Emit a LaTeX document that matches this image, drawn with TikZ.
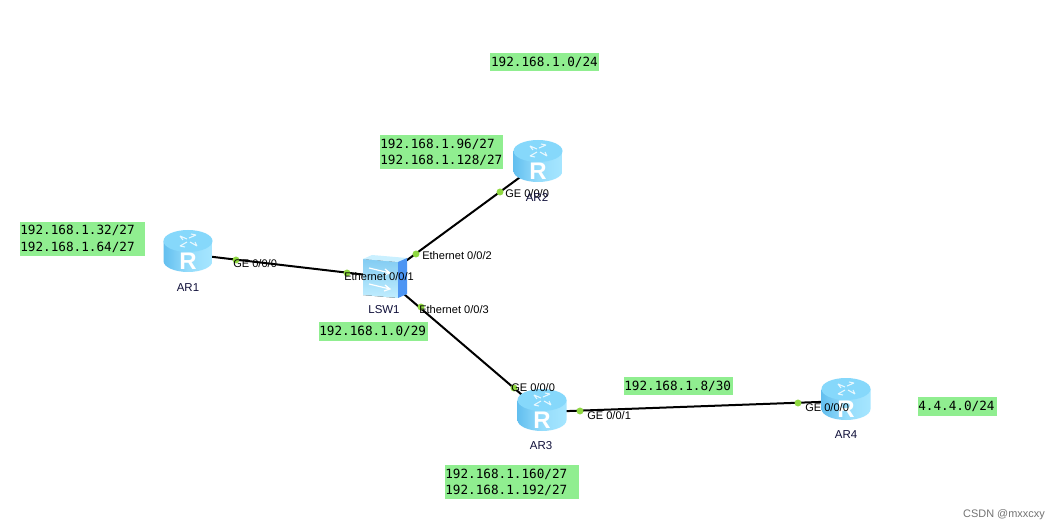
\documentclass[tikz,border=0pt]{standalone}
\usepackage{fontspec}
\setmainfont{Liberation Sans}
\newfontfamily\monof{DejaVu Sans Mono}
\definecolor{netgreen}{HTML}{90EE90}
\definecolor{dotgreen}{HTML}{8FD840}
\definecolor{bodyA}{HTML}{63BFEF}
\definecolor{bodyB}{HTML}{A6E6FF}
\definecolor{topA}{HTML}{86D8FB}
\definecolor{labelc}{HTML}{10103A}
\tikzset{
  px/.style={x=0.75pt,y=-0.75pt},
  anchorbox/.style={inner sep=0pt,minimum width=36pt,minimum height=31pt},
  link/.style={black,line width=1.5pt},
  portdot/.style={circle,fill=dotgreen,inner sep=0pt,minimum size=5.2pt},
  portlabel/.style={font=\fontsize{8.3pt}{9pt}\selectfont,text=black,inner sep=0pt,anchor=west},
  devlabel/.style={font=\fontsize{8.6pt}{10pt}\selectfont,text=labelc,inner sep=0pt},
  netbox/.style={fill=netgreen,font=\monof\fontsize{9.5pt}{12.4pt}\selectfont,text=black,inner sep=0pt,align=left,anchor=north west},
}
\newcommand{\routericon}[2]{%
  \begin{scope}[shift={(#1,#2)}]
    \path[left color=bodyA,right color=bodyB,middle color=bodyB!75!bodyA]
      (-24.5,-10) -- (-24.5,10) arc[start angle=180,end angle=0,x radius=24.5,y radius=11]
      -- (24.5,-10) -- cycle;
    \fill[topA] (0,-10) ellipse[x radius=24.5,y radius=11];
    \begin{scope}[white,opacity=.8,line width=.8pt]
      \draw (-8,-15) -- (-1,-12) (-8,-15) -- (-5,-11);
      \draw (8,-16) -- (1,-13) (8,-16) -- (3,-17);
      \draw (-8,-5) -- (-1,-9) (-8,-5) -- (-3,-4);
      \draw (9,-5) -- (2,-9) (9,-5) -- (7,-9);
    \end{scope}
    \node[text=white,inner sep=0pt,font=\bfseries\fontsize{18pt}{18pt}\selectfont] at (0,10.5) {R};
  \end{scope}}
\begin{document}
\begin{tikzpicture}[px]
\useasboundingbox (0,0) rectangle (1054,531);
\fill[white] (0,0) rectangle (1054,531);
% device anchors
\node[anchorbox] (AR1) at (188,254) {};
\node[anchorbox] (AR2) at (538,164) {};
\node[anchorbox] (AR3) at (542,412) {};
\node[anchorbox] (AR4) at (846,401) {};
\node[anchorbox,minimum width=32pt] (LSW1) at (384,277) {};
% links
\draw[link] (AR1.center) -- (LSW1.center);
\draw[link] (AR2.center) -- (LSW1.center);
\draw[link] (LSW1.center) -- (AR3.center);
\draw[link] (AR3.center) -- (AR4.center);
% icons
\routericon{188}{251}
\routericon{538}{161}
\routericon{542}{410}
\routericon{846}{399}
% switch
\fill[top color=bodyA!80!white,bottom color=bodyB!70!white] (363,259) -- (398,262) -- (398,298) -- (363,295) -- cycle;
\fill[bodyB!60!white] (363,259) -- (372,255) -- (407,258) -- (398,262) -- cycle;
\fill[blue!22!bodyA] (398,262) -- (407,258) -- (407,294) -- (398,298) -- cycle;
\begin{scope}[white,line width=.9pt]
  \draw (369,268) -- (390,273) (385,269) -- (390,273) -- (384,275);
  \draw (369,284) -- (390,289) (385,285) -- (390,289) -- (384,291);
\end{scope}
% port dots
\node[portdot] (p1) at (236,260) {};
\node[portdot] (p2) at (347,273) {};
\node[portdot] (p3) at (416,254) {};
\node[portdot] (p4) at (500,192) {};
\node[portdot] (p5) at (421,307) {};
\node[portdot] (p6) at (514,388) {};
\node[portdot] (p7) at (580,411) {};
\node[portdot] (p8) at (798,403) {};
% port labels
\node[portlabel] (l1) at (233,264) {GE 0/0/0};
\node[portlabel] (l2) at (344,277) {Ethernet 0/0/1};
\node[portlabel] (l3) at (422,256) {Ethernet 0/0/2};
\node[portlabel] (l4) at (505,194) {GE 0/0/0};
\node[portlabel] (l5) at (419,310) {Ethernet 0/0/3};
\node[portlabel] (l6) at (511,388) {GE 0/0/0};
\node[portlabel] (l7) at (587,416) {GE 0/0/1};
\node[portlabel] (l8) at (805,408) {GE 0/0/0};
% device labels
\node[devlabel] (n1) at (188,288) {AR1};
\node[devlabel] (n2) at (537,197) {AR2};
\node[devlabel] (n3) at (541,446) {AR3};
\node[devlabel] (n4) at (846,435) {AR4};
\node[devlabel] (n5) at (384,310) {LSW1};
% networks
\node[netbox,text width=81.75pt,minimum height=13.5pt] (a) at (490,53) {\hspace{.6pt}192.168.1.0/24};
\node[netbox,text width=92.25pt,minimum height=25.5pt] (b) at (380,135) {192.168.1.96/27\\192.168.1.128/27};
\node[netbox,text width=93.75pt,minimum height=25pt] (c) at (20,222) {192.168.1.32/27\\192.168.1.64/27};
\node[netbox,text width=81.75pt,minimum height=14pt] (d) at (319,322) {192.168.1.0/29};
\node[netbox,text width=81.75pt,minimum height=13.5pt] (e) at (624,377) {192.168.1.8/30};
\node[netbox,text width=59.25pt,minimum height=14pt] (f) at (918,397) {4.4.4.0/24};
\node[netbox,text width=100.5pt,minimum height=25.5pt] (g) at (445,465) {192.168.1.160/27\\192.168.1.192/27};
\node[inner sep=0pt,anchor=east,text=black!55,font=\fontsize{8.2pt}{10pt}\selectfont] (w) at (1045,515) {CSDN @mxxcxy};
\end{tikzpicture}
\end{document}
